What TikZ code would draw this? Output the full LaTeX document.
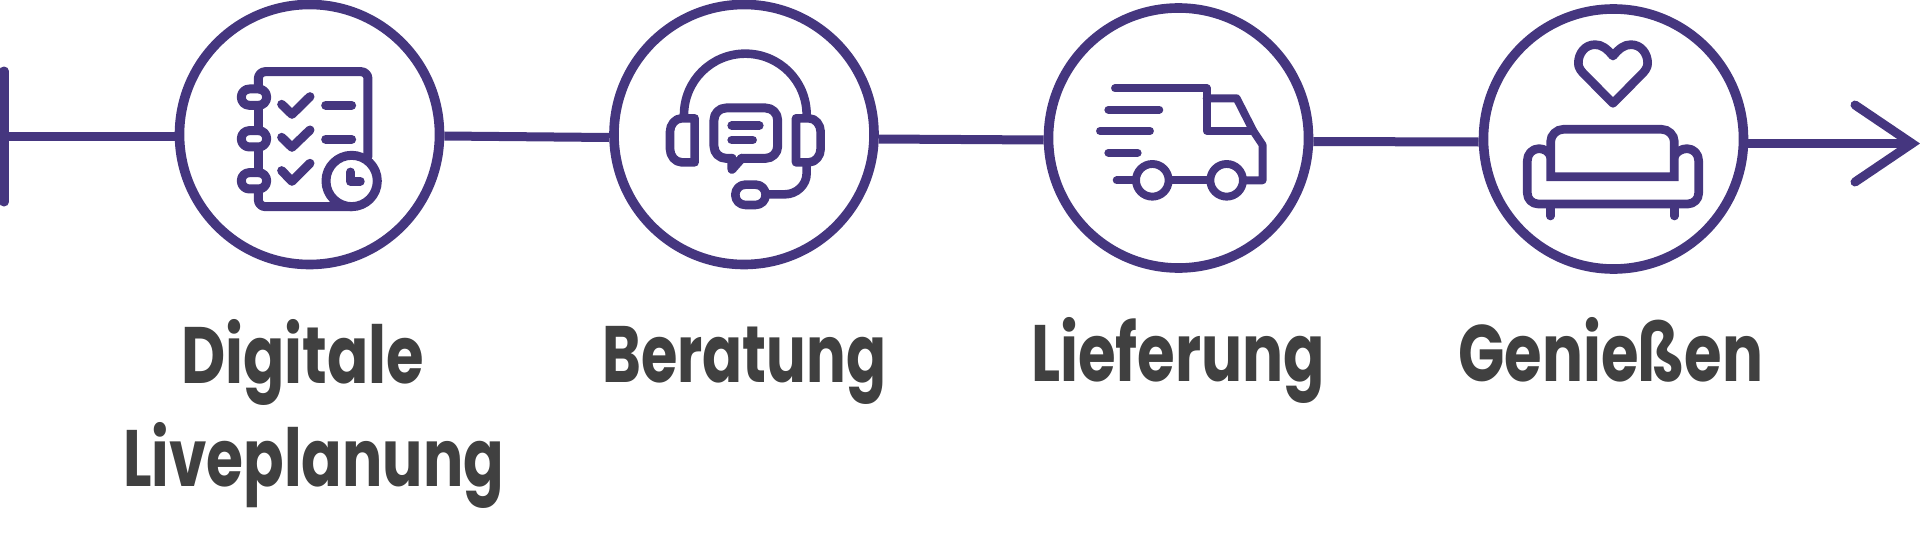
\documentclass[tikz,border=0pt]{standalone}
\usepackage{fontspec}
\usepackage{graphicx}
\setmainfont{Poppins}
\definecolor{brandviolet}{HTML}{45367F}
\definecolor{labelgrey}{HTML}{404040}
\newcommand{\fitw}[2]{\resizebox{#1pt}{\height}{#2}}
\tikzset{
  stage/.style={circle,draw=brandviolet,line width=9.6pt,minimum size=260pt,inner sep=0pt,fill=none},
  conn/.style={draw=brandviolet,line width=9pt},
  ic/.style={draw=brandviolet,line cap=round,line join=round},
  lab/.style={anchor=base west,inner sep=0pt,text=labelgrey,font=\fontsize{80}{80}\selectfont\bfseries},
  izoom/.style={x=0.3333pt,y=-0.3333pt}
}
\begin{document}
\begin{tikzpicture}[x=1pt,y=-1pt]
\useasboundingbox (0,0) rectangle (1920,533);
\node[stage] (c1) at (309.5,134.5) {};
\node[stage] (c2) at (744,134.5) {};
\node[stage] (c3) at (1178.5,138) {};
\node[stage] (c4) at (1613.5,139) {};
\coordinate (s) at (4,136);
\coordinate (stop) at (4,71);
\coordinate (sbot) at (4,202);
\coordinate (tip) at (1912,143.5);
\coordinate (au) at (1855,105);
\coordinate (ad) at (1855,182);
\draw[conn,line cap=round] (stop) -- (sbot);
\draw[conn] (s) -- ([yshift=-1.5pt]c1.west);
\draw[conn] ([yshift=-1.5pt]c1.east) -- ([yshift=-3pt]c2.west);
\draw[conn] ([yshift=-4.5pt]c2.east) -- ([yshift=-2pt]c3.west);
\draw[conn] ([yshift=-3.5pt]c3.east) -- ([yshift=-3pt]c4.west);
\draw[conn] ([yshift=-4.5pt]c4.east) -- (tip);
\draw[conn,line cap=round,line join=miter] (au) -- (tip) -- (ad);
% icon 1
\begin{scope}[shift={(170,0)},izoom]
\tikzset{every path/.style={ic,line width=9pt}}
\draw[rounded corners=7pt] (265,255) -- (265,215) -- (594,215) -- (594,470);
\draw[rounded corners=7pt] (265,578) -- (265,620) -- (545,620);
\draw (265,328) -- (265,380);
\draw (265,452) -- (265,505);
\draw[rounded corners=8pt] (214,267) rectangle (290,316);
\draw[rounded corners=8pt] (214,392) rectangle (290,441);
\draw[rounded corners=8pt] (214,518) rectangle (290,567);
\draw (335,313) -- (366,343) -- (420,290);
\draw (335,412) -- (366,442) -- (420,390);
\draw (335,512) -- (366,544) -- (420,490);
\draw (467,316) -- (545,316);
\draw (467,418) -- (545,418);
\draw (545,543) circle[radius=77];
\draw[line width=8.8pt] (541,516) -- (541,544) -- (571,544);
\end{scope}
% icon 2
\begin{scope}[shift={(610,0)},izoom]
\tikzset{every path/.style={ic,line width=8.6pt}}
\draw (222,345) .. controls (222,243) and (304,161) .. (406,161) .. controls (508,161) and (590,243) .. (590,345);
\draw (254,355) -- (215,355) .. controls (195,355) and (180,375) .. (180,395) -- (180,447) .. controls (180,467) and (195,487) .. (215,487) -- (254,487) -- cycle;
\draw (558,355) -- (597,355) .. controls (617,355) and (632,375) .. (632,395) -- (632,447) .. controls (632,467) and (617,487) .. (597,487) -- (558,487) -- cycle;
\draw (590,487) -- (590,520) .. controls (590,555) and (560,583) .. (525,583) -- (470,583);
\draw[rounded corners=10pt] (376,554) rectangle (467,615);
\draw[rounded corners=12pt,line width=9pt] (366,475) -- (312,475) -- (312,324) -- (503,324) -- (503,475) -- (395,475);
\draw[line width=9pt] (395,475) -- (366,508) -- (366,475);
\draw (365,377) -- (448,377);
\draw (365,420) -- (428,420);
\end{scope}
% icon 3
\begin{scope}[shift={(1040,0)},izoom]
\tikzset{every path/.style={ic,line width=7.9pt}}
\draw (225,265) -- (500,265) -- (500,393) -- (640,393);
\draw (500,295) -- (590,295) -- (640,393) -- (668,435) -- (668,541) -- (610,541);
\draw (205,329) -- (358,329);
\draw (180,393) -- (330,393);
\draw (205,458) -- (293,458);
\draw (230,541) -- (285,541);
\draw (390,541) -- (505,541);
\draw (337,541) circle[radius=49];
\draw (560,541) circle[radius=49];
\end{scope}
% icon 4
\begin{scope}[shift={(1470,0)},izoom]
\tikzset{every path/.style={ic,line width=8.7pt}}
\draw (429,168) .. controls (410,145) and (395,134) .. (375,134) .. controls (345,134) and (325,160) .. (325,190) .. controls (325,205) and (335,215) .. (345,225) -- (429,310) -- (513,225) .. controls (523,215) and (533,205) .. (533,190) .. controls (533,160) and (513,134) .. (483,134) .. controls (463,134) and (448,145) .. (429,168) -- cycle;
\draw[line join=miter] (242,530) -- (242,425) .. controls (242,405) and (260,388) .. (280,388) -- (575,388) .. controls (595,388) and (613,405) .. (613,425) -- (613,530) -- cycle;
\draw (242,470) .. controls (238,455) and (222,446) .. (207,446) .. controls (187,446) and (172,462) .. (172,482) -- (172,580) .. controls (172,598) and (187,612) .. (205,612) -- (653,612) .. controls (671,612) and (686,598) .. (686,580) -- (686,482) .. controls (686,462) and (671,446) .. (651,446) .. controls (636,446) and (618,455) .. (613,470);
\draw (241,620) -- (241,648);
\draw (613,620) -- (613,648);
\end{scope}
% labels
\node[lab] (t1a) at (181,383) {\fitw{243}{Digitale}};
\node[lab] (t1b) at (123,486) {\fitw{381}{Liveplanung}};
\node[lab] (t2) at (602,382) {\fitw{284}{Beratung}};
\node[lab] (t3) at (1031,381) {\fitw{294}{Lieferung}};
\node[lab] (t4) at (1458,381) {\fitw{305}{Genießen}};
\end{tikzpicture}
\end{document}
